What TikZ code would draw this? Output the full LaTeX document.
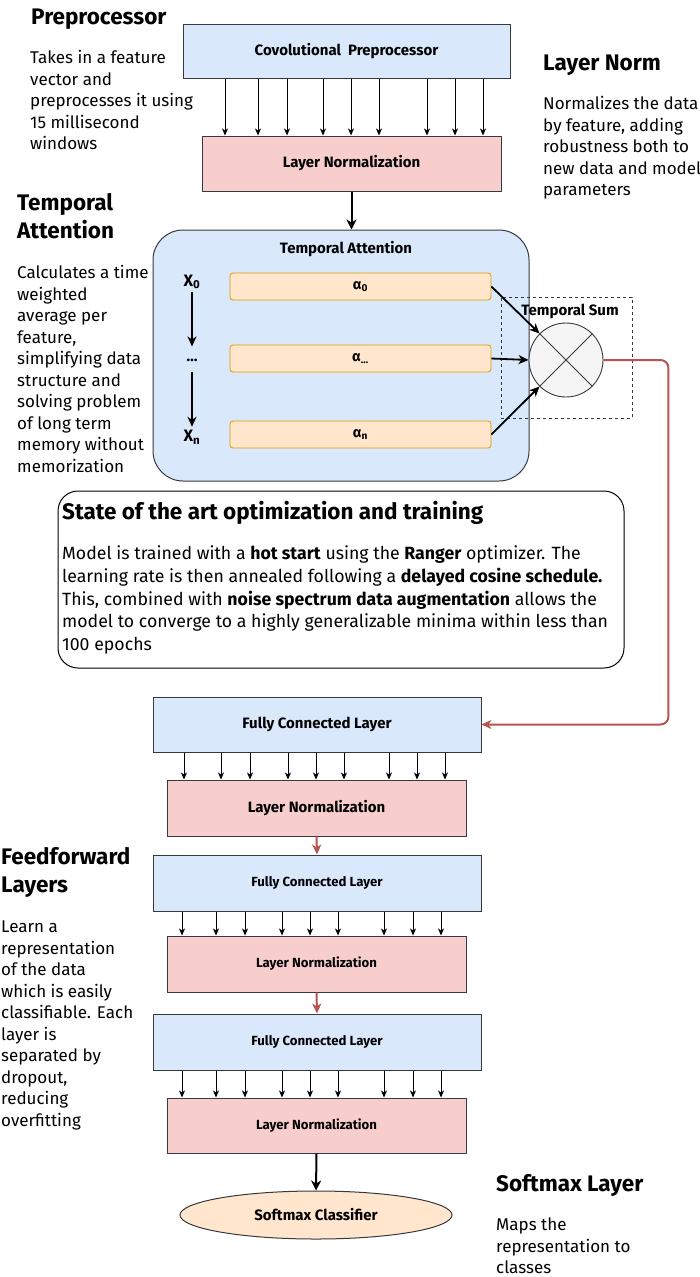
\documentclass[tikz,border=0pt]{standalone}
\usepackage{fontspec}
\setmainfont{Fira Sans}
\usetikzlibrary{arrows.meta,shapes.geometric,calc}
\definecolor{blueF}{HTML}{DAE8FC}
\definecolor{redF}{HTML}{F8CECC}
\definecolor{orangeF}{HTML}{FFE6CC}
\definecolor{orangeD}{HTML}{D79B00}
\definecolor{redD}{HTML}{B85450}
\definecolor{grayF}{HTML}{F5F5F5}
\definecolor{boxD}{HTML}{36393D}
\begin{document}
\begin{tikzpicture}[x=1pt,y=-1pt,
  box/.style={draw=boxD,line width=1pt,inner sep=0pt},
  bluebox/.style={box,fill=blueF},
  redbox/.style={box,fill=redF},
  bigl/.style={font=\fontsize{15}{17}\selectfont\bfseries},
  smalll/.style={font=\fontsize{13.2}{15}\selectfont\bfseries},
  alphabox/.style={draw=orangeD,fill=orangeF,line width=0.8pt,rounded corners=3pt,minimum width=261,minimum height=27,inner sep=0pt,font=\fontsize{14.5}{16}\selectfont\bfseries},
  title/.style={anchor=base west,align=left,inner sep=0pt,font=\fontsize{22.5}{28}\selectfont\bfseries},
  body/.style={anchor=base west,align=left,inner sep=0pt,font=\fontsize{17}{21.5}\selectfont},
  thinarr/.style={-{Stealth[length=7pt,width=6pt,inset=2pt]},line width=0.9pt,black},
  thickarr/.style={-{Stealth[length=10pt,width=10pt,inset=3pt]},line width=2pt,black},
  medarr/.style={-{Stealth[length=10pt,width=9pt,inset=3pt]},line width=1.8pt,black},
  redarr/.style={-{Stealth[length=10pt,width=9pt,inset=3pt]},line width=2pt,redD},
]
\useasboundingbox (0,0) rectangle (699,1277);

% ---------- side texts (anchor = baseline of last line) ----------
\node[title] (tpre) at (31,24) {Preprocessor};
\node[body] (bpre) at (30,149.5) {Takes in a feature\\vector and\\preprocesses it using\\15 millisecond\\windows};
\node[title] (tln) at (543,70) {Layer Norm};
\node[body] (bln) at (543,195.5) {Normalizes the data\\by feature, adding\\robustness both to\\new data and model\\parameters};
\node[title] (tta) at (17,238) {Temporal\\Attention};
\node[body] (bta) at (17,472) {Calculates a time\\weighted\\average per\\feature,\\simplifying data\\structure and\\solving problem\\of long term\\memory without\\memorization};
\node[title] (tff) at (1,892) {Feedforward\\Layers};
\node[body] (bff) at (1,1126) {Learn a\\representation\\of the data\\which is easily\\classifiable. Each\\layer is\\separated by\\dropout,\\reducing\\overfitting};
\node[title] (tsm) at (496,1191) {Softmax Layer};
\node[body] (bsm) at (496,1273.5) {Maps the\\representation to\\classes};

% ---------- preprocessor ----------
\node[bluebox,bigl,minimum width=327,minimum height=54] (conv) at (346.5,51) {Covolutional\ \ Preprocessor};
\node[redbox,bigl,minimum width=299,minimum height=55] (ln1) at (351.5,163.5) {Layer Normalization};
\foreach \x in {225,258,287,323,351,379,427,455,483}
  \draw[thinarr] (conv.south -| \x,0) -- (ln1.north -| \x,0);

% ---------- temporal attention ----------
\node[box,fill=blueF,rounded corners=30pt,minimum width=376,minimum height=251] (ta) at (341,355.5) {};
\draw[thickarr] (ln1.south) -- (ta.north -| ln1.south);
\node[bigl,inner sep=0pt] (talab) at (346,249) {Temporal Attention};

\node[alphabox] (a0) at (360.5,286.5) {α\textsubscript{0}};
\node[alphabox] (a1) at (360.5,358.5) {α\textsubscript{…}};
\node[alphabox] (an) at (360.5,434.5) {α\textsubscript{n}};

\node[font=\fontsize{16.5}{18}\selectfont\bfseries,inner sep=0pt] (x0) at (192,282) {X\textsubscript{0}};
\node[bigl,inner sep=0pt] (xd) at (192,360) {…};
\node[font=\fontsize{16.5}{18}\selectfont\bfseries,inner sep=0pt] (xn) at (192,437) {X\textsubscript{n}};
\draw[medarr,line width=1.3pt,shorten <=3pt,shorten >=12pt] (x0.south) -- (xd.north);
\draw[medarr,line width=1.3pt,shorten <=10pt,shorten >=3pt] (xd.south) -- (xn.north);

% temporal sum
\node[draw=boxD,dashed,line width=0.8pt,minimum width=131,minimum height=121,inner sep=0pt] (tsum) at (566.5,357.5) {};
\node[bigl,inner sep=0pt] (tsumlab) at (570,311) {Temporal Sum};
\node[draw=boxD,fill=grayF,circle,line width=0.9pt,minimum size=74,inner sep=0pt] (circ) at (566,360) {};
\draw[boxD,line width=0.9pt] (circ.45) -- (circ.225) (circ.135) -- (circ.-45);
\draw[medarr] (a0.east) -- (circ.135);
\draw[medarr] (a1.east) -- (circ.west);
\draw[medarr] (an.east) -- (circ.-135);

% ---------- state of the art ----------
\node[draw=black,line width=1pt,rounded corners=20pt,fill=white,minimum width=566,minimum height=177] (state) at (341,579.5) {};
\node[anchor=base west,inner sep=0pt,font=\fontsize{22.5}{26}\selectfont\bfseries] (stitle) at (62,519) {State of the art optimization and training};
\node[anchor=base west,align=left,inner sep=0pt,font=\fontsize{17.7}{22.8}\selectfont] (sbody) at (62,650.7) {Model is trained with a \textbf{hot start} using the \textbf{Ranger} optimizer. The\\learning rate is then annealed following a \textbf{delayed cosine schedule.}\\This, combined with \textbf{noise spectrum data augmentation} allows the\\model to converge to a highly generalizable minima within less than\\100 epochs};

% ---------- feedforward ----------
\node[bluebox,bigl,minimum width=328,minimum height=55] (fc1) at (317,724.5) {Fully Connected Layer};
\node[redbox,bigl,minimum width=299,minimum height=56] (ln2) at (316.5,808) {Layer Normalization};
\foreach \x in {184,221,250,288,316,344,389,417,445}
  \draw[thinarr] (fc1.south -| \x,0) -- (ln2.north -| \x,0);
\draw[redarr,rounded corners=8pt] (circ.east) -- ++(65,0) |- (fc1.east);

\node[bluebox,smalll,minimum width=328,minimum height=56] (fc2) at (317,883) {Fully Connected Layer};
\draw[redarr] (ln2.south) -- (fc2.north);
\node[redbox,smalll,minimum width=299,minimum height=56] (ln3) at (316.5,964) {Layer Normalization};
\foreach \x in {182,216,245,282,310,338,384,413,441}
  \draw[thinarr] (fc2.south -| \x,0) -- (ln3.north -| \x,0);
\node[bluebox,smalll,minimum width=328,minimum height=56] (fc3) at (317,1042) {Fully Connected Layer};
\draw[redarr] (ln3.south) -- (fc3.north);
\node[redbox,smalll,minimum width=299,minimum height=55] (ln4) at (316.5,1125.5) {Layer Normalization};
\foreach \x in {182,216,245,282,310,338,384,413,441}
  \draw[thinarr] (fc3.south -| \x,0) -- (ln4.north -| \x,0);

\node[draw=boxD,fill=orangeF,ellipse,line width=1pt,minimum width=272,minimum height=48,inner sep=0pt,bigl] (soft) at (316,1215) {Softmax Classifier};
\draw[thickarr] (ln4.south) -- (soft.north);
\end{tikzpicture}
\end{document}
